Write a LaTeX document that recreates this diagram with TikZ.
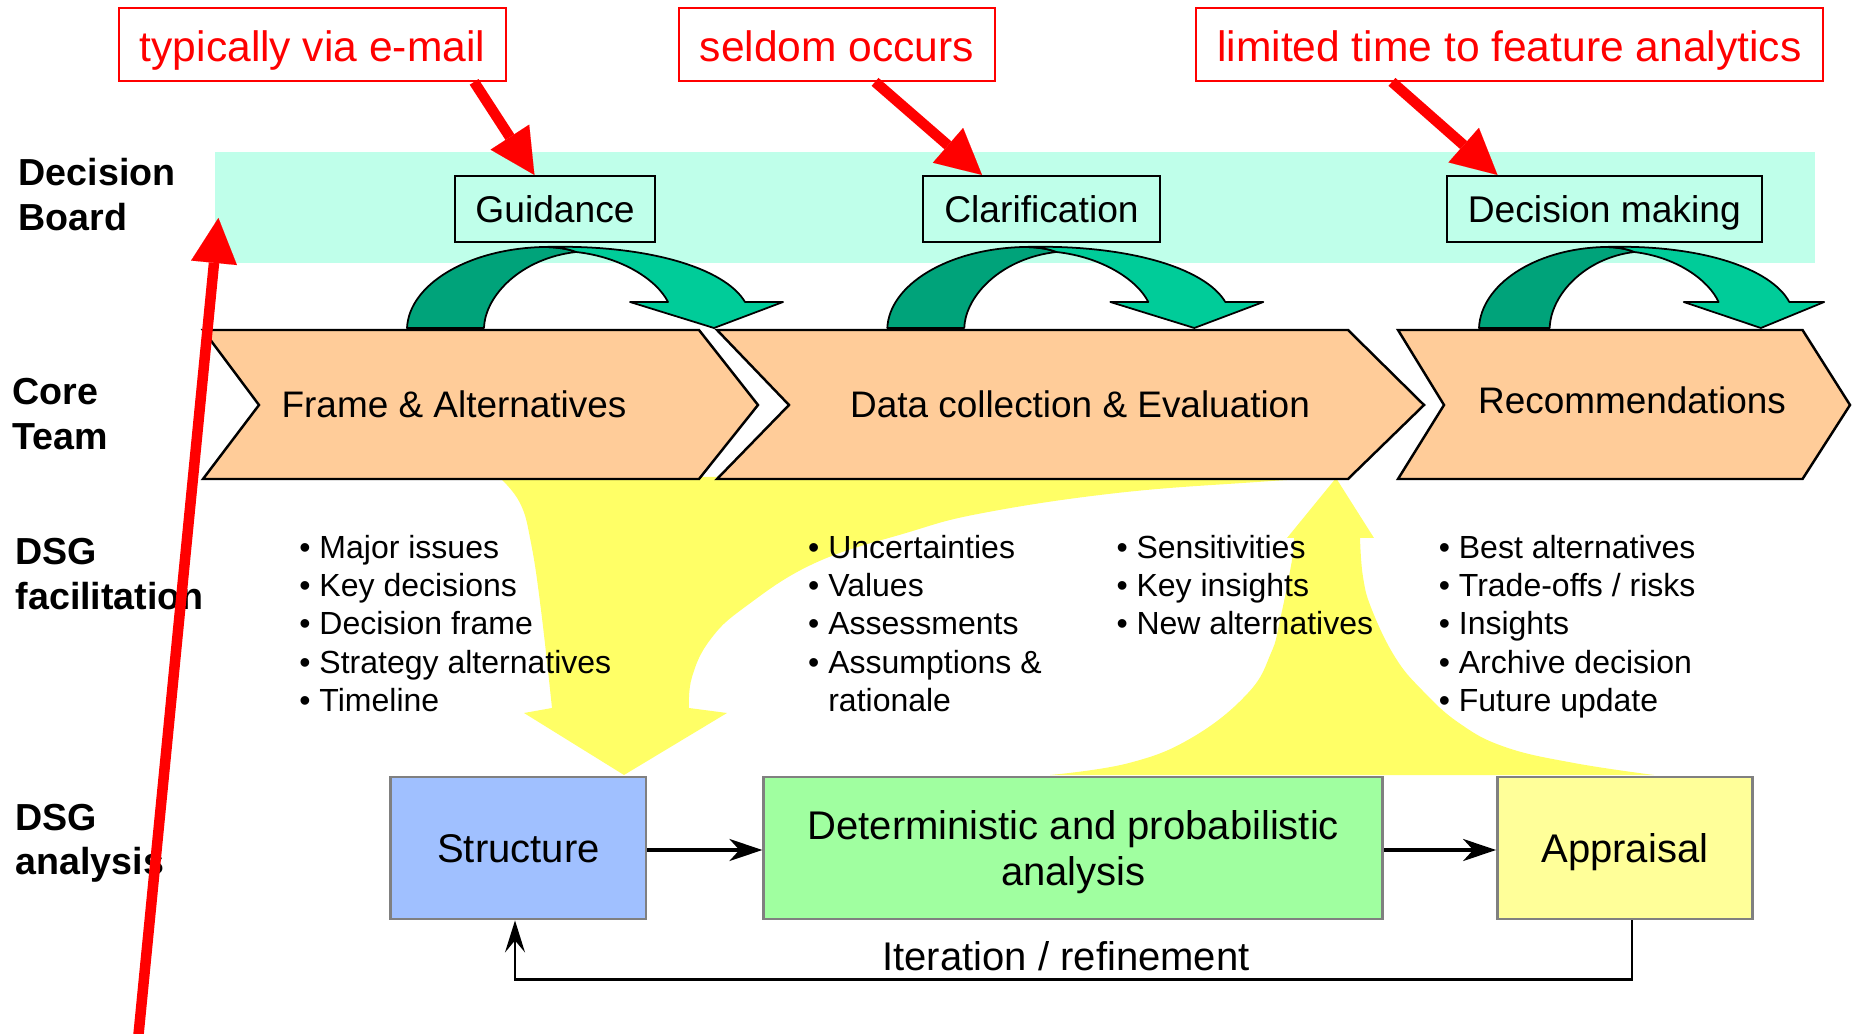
\documentclass[tikz,border=0pt]{standalone}
\usepackage{fontspec}
\setmainfont{Liberation Sans}
\usetikzlibrary{arrows.meta}
\definecolor{bandcyan}{RGB}{191,255,234}
\definecolor{arcdark}{RGB}{0,163,122}
\definecolor{arclight}{RGB}{0,204,153}
\definecolor{chevorange}{RGB}{255,204,153}
\definecolor{flowyellow}{RGB}{255,255,102}
\definecolor{structblue}{RGB}{160,192,255}
\definecolor{detgreen}{RGB}{160,255,160}
\definecolor{apprYellow}{RGB}{255,255,153}
\definecolor{boxgray}{RGB}{128,128,128}
\newcommand{\dsgArc}[2]{%
\begin{scope}[shift={(#1,0)},xscale=#2]
\filldraw[fill=arcdark,draw=black,line width=0.5pt,line join=round]
  (0,328) .. controls (2,285) and (60,249) .. (136,247)
  .. controls (150,247) and (162,249) .. (169,252)
  .. controls (115,258) and (78,295) .. (77,328) -- cycle;
\filldraw[fill=arclight,draw=black,line width=0.5pt,line join=round]
  (136,247) .. controls (240,244) and (318,268) .. (338,302)
  -- (376,302) -- (307,328) -- (223,302) -- (261,302)
  .. controls (250,280) and (215,257) .. (169,252)
  .. controls (162,249) and (150,247) .. (136,247) -- cycle;
\end{scope}}
\begin{document}
\begin{tikzpicture}[x=0.01cm,y=-0.01cm,
  chevshape/.style={fill=chevorange,draw=black,line width=0.7pt,line join=miter},
  chevtext/.style={anchor=base,inner sep=0,font=\fontsize{10.5}{12}\selectfont},
  dbox/.style={draw=black,line width=0.6pt,fill=bandcyan,inner sep=0,text height=0.46cm,text depth=0.20cm,minimum height=0.66cm,font=\fontsize{10.58}{12}\selectfont},
  notebox/.style={draw=red,line width=0.5pt,fill=white,text=red,inner sep=0,text height=0.535cm,text depth=0.195cm,font=\fontsize{12.1}{14}\selectfont},
  sidelab/.style={anchor=base west,inner sep=0,font=\bfseries\fontsize{10.7}{12.7}\selectfont},
  bullist/.style={anchor=base west,inner sep=0,font=\fontsize{9.1}{10.87}\selectfont},
  abox/.style={draw=boxgray,line width=0.8pt,inner sep=0,font=\fontsize{11.38}{12.8}\selectfont},
  flowarrow/.style={draw=black,line width=0.9pt,-{Stealth[length=0.33cm,width=0.22cm,inset=0.1cm]}},
  iterline/.style={draw=black,line width=0.6pt,-{Stealth[length=0.32cm,width=0.2cm,inset=0.12cm]}},
  itertext/.style={anchor=base,inner sep=0,font=\fontsize{11.38}{13}\selectfont},
  redarrow/.style={draw=red,line width=0.105cm,-{Triangle[length=0.45cm,width=0.46cm,line width=0.01pt]}}
]
\useasboundingbox (0,0) rectangle (1858,1034);

% Decision board band
\fill[bandcyan] (215,152) rectangle (1814.6,263);

% yellow flow arrows
\fill[flowyellow] plot[smooth,tension=0.7] coordinates {(499,477) (520,503) (531,543) (541,610) (552,708)}
  -- (524,713) -- (624,775) -- (727,713) -- (689,708)
  -- plot[smooth,tension=0.7] coordinates {(689,708) (692,677) (710,640) (745,607) (815,563) (906,533) (983,513) (1117,493) (1257,482) (1340,477)} -- cycle;
\fill[flowyellow] plot[smooth,tension=0.7] coordinates {(1050,775) (1129,763) (1193,737) (1248,693) (1271,653) (1280,620) (1292,560) (1294,538)}
  -- (1287,538) -- (1336,478) -- (1374,538) -- (1360,538)
  -- plot[smooth,tension=0.7] coordinates {(1360,538) (1363,577) (1372,610) (1395,657) (1422,690) (1459,723) (1505,747) (1574,763) (1654,775)} -- cycle;

% chevrons
\filldraw[chevshape] (203,330) -- (699,330) -- (758,405) -- (699,479) -- (203,479) -- (259,405) -- cycle;
\filldraw[chevshape] (717,330) -- (1348,330) -- (1424,405) -- (1348,479) -- (717,479) -- (789,405) -- cycle;
\filldraw[chevshape] (1398,330) -- (1802.5,330) -- (1850,405) -- (1802.5,479) -- (1398,479) -- (1444,405) -- cycle;

% green curved arrows
\dsgArc{407}{1}
\dsgArc{887.3}{1}
\dsgArc{1479}{0.918}

% chevron texts
\node[chevtext] (frame) at (454,417.5) {Frame \& Alternatives};
\node[chevtext] (datacol) at (1080,417.5) {Data collection \& Evaluation};
\node[chevtext] (recomm) at (1632,413.5) {Recommendations};

% decision board boxes
\node[dbox,minimum width=2cm] (guid) at (555,209) {Guidance};
\node[dbox,minimum width=2.37cm] (clar) at (1041.5,209) {Clarification};
\node[dbox,minimum width=3.145cm] (decm) at (1604.3,209) {Decision making};

% note boxes
\node[notebox,minimum width=3.87cm] (note1) at (312.5,44.5) {typically via e-mail};
\node[notebox,minimum width=3.16cm] (note2) at (837,44.5) {seldom occurs};
\node[notebox,minimum width=6.266cm] (note3) at (1509.3,44.5) {limited time to feature analytics};

% side labels
\node[sidelab,font=\bfseries\fontsize{10.7}{12.8}\selectfont] (lbBoard) at (18,185.5) {\begin{tabular}[t]{@{}l@{}}Decision\\Board\end{tabular}};
\node[sidelab] (lbCore) at (12,404.8) {\begin{tabular}[t]{@{}l@{}}Core\\Team\end{tabular}};
\node[sidelab] (lbFac) at (15,564.9) {\begin{tabular}[t]{@{}l@{}}DSG\\facilitation\end{tabular}};
\node[sidelab] (lbAna) at (15,830) {\begin{tabular}[t]{@{}l@{}}DSG\\analysis\end{tabular}};

% bullet lists
\node[bullist] (col1) at (298.7,558.5) {\begin{tabular}[t]{@{}l@{}}• Major issues\\• Key decisions\\• Decision frame\\• Strategy alternatives\\• Timeline\end{tabular}};
\node[bullist] (col2) at (807.5,558.5) {\begin{tabular}[t]{@{}l@{}}• Uncertainties\\• Values\\• Assessments\\• Assumptions \&\\\hphantom{•\ }rationale\end{tabular}};
\node[bullist] (col3) at (1115.8,558.5) {\begin{tabular}[t]{@{}l@{}}• Sensitivities\\• Key insights\\• New alternatives\end{tabular}};
\node[bullist] (col4) at (1438.1,558.5) {\begin{tabular}[t]{@{}l@{}}• Best alternatives\\• Trade-offs / risks\\• Insights\\• Archive decision\\• Future update\end{tabular}};

% analysis boxes
\node[abox,fill=structblue,minimum width=2.552cm,text height=0.85cm,text depth=0.57cm] (struct) at (518.4,848) {Structure};
\node[abox,fill=detgreen,minimum width=6.186cm,text height=0.63cm,text depth=0.79cm] (det) at (1073.3,848) {\begin{tabular}[t]{@{}c@{}}Deterministic and probabilistic\\analysis\end{tabular}};
\node[abox,fill=apprYellow,minimum width=2.544cm,text height=0.85cm,text depth=0.57cm] (appr) at (1624.8,848) {Appraisal};

\draw[flowarrow] ([yshift=-0.02cm]struct.east) -- ([yshift=-0.02cm]det.west);
\draw[flowarrow] ([yshift=-0.02cm]det.east) -- ([yshift=-0.02cm]appr.west);
\draw[iterline] ([xshift=0.07cm]appr.south) -- ++(0,59) -| ([xshift=-0.034cm]struct.south);
\node[itertext] (iterlab) at (1066,970) {Iteration / refinement};

% red arrows
\coordinate (t1) at ([xshift=1.615cm]note1.south);
\coordinate (h1) at ([xshift=-0.206cm]guid.north);
\coordinate (t2) at ([xshift=0.38cm]note2.south);
\coordinate (h2) at ([xshift=-0.595cm]clar.north);
\coordinate (t3) at ([xshift=-1.173cm]note3.south);
\coordinate (h3) at ([xshift=-1.068cm]decm.north);
\coordinate (bigtail) at (137.5,1045);
\coordinate (bigtip) at (218.4,218);
\draw[redarrow] (t1) -- (h1);
\draw[redarrow] (t2) -- (h2);
\draw[redarrow] (t3) -- (h3);
\draw[redarrow] (bigtail) -- (bigtip);
\end{tikzpicture}
\end{document}
